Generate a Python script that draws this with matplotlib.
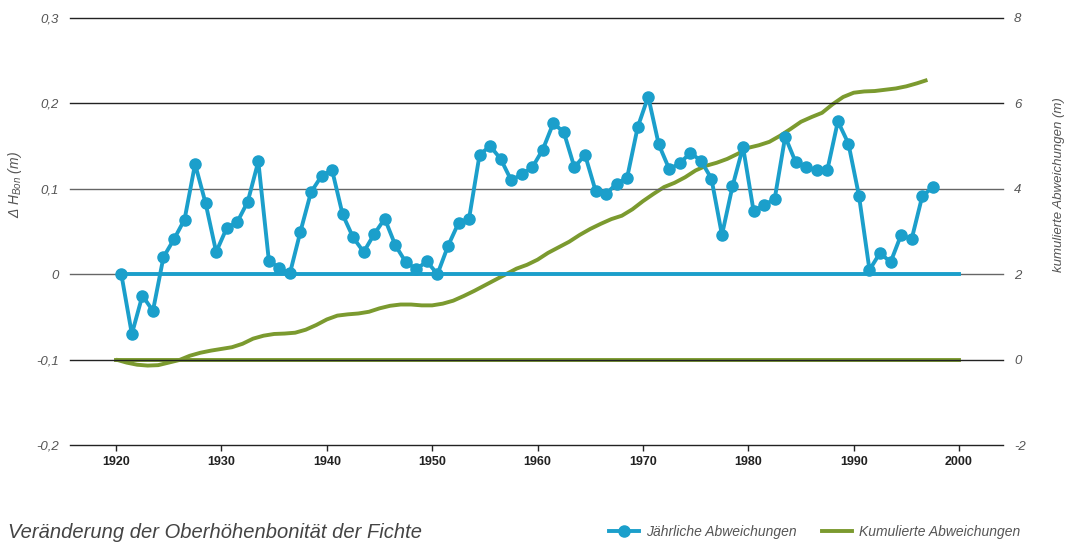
import numpy as np
import matplotlib
matplotlib.use("Agg")
import matplotlib.pyplot as plt
from matplotlib.lines import Line2D

plt.rcParams['font.family'] = ['Liberation Sans', 'DejaVu Sans']
plt.rcParams['mathtext.fontset'] = 'custom'
plt.rcParams['mathtext.rm'] = 'Liberation Sans:italic'
plt.rcParams['mathtext.it'] = 'Liberation Sans:italic'

# yearly deviations (left axis, m), plotted mid-year
years = np.arange(1920, 1998)
jaehrlich = [0.000, -0.070, -0.025, -0.043, 0.020, 0.041, 0.064, 0.129, 0.083, 0.026,
             0.054, 0.061, 0.085, 0.132, 0.016, 0.007, 0.001, 0.050, 0.096, 0.115,
             0.122, 0.070, 0.043, 0.026, 0.047, 0.065, 0.034, 0.014, 0.006, 0.015,
             0.000, 0.033, 0.060, 0.065, 0.140, 0.150, 0.135, 0.110, 0.117, 0.125,
             0.146, 0.177, 0.166, 0.125, 0.140, 0.098, 0.094, 0.106, 0.113, 0.172,
             0.208, 0.152, 0.123, 0.130, 0.142, 0.133, 0.112, 0.046, 0.103, 0.149,
             0.074, 0.081, 0.088, 0.161, 0.131, 0.125, 0.122, 0.122, 0.179, 0.153,
             0.092, 0.005, 0.025, 0.014, 0.046, 0.041, 0.091, 0.102]

# cumulative deviations (right axis, m)
kumuliert = [0.00, -0.07, -0.12, -0.14, -0.13, -0.07, -0.01, 0.09, 0.16, 0.21,
             0.25, 0.29, 0.37, 0.49, 0.56, 0.60, 0.61, 0.63, 0.70, 0.81,
             0.94, 1.03, 1.06, 1.08, 1.12, 1.20, 1.26, 1.29, 1.29, 1.27,
             1.27, 1.31, 1.38, 1.49, 1.61, 1.74, 1.87, 2.00, 2.13, 2.22,
             2.34, 2.50, 2.63, 2.76, 2.92, 3.06, 3.18, 3.29, 3.37, 3.52,
             3.71, 3.88, 4.04, 4.14, 4.27, 4.43, 4.54, 4.61, 4.70, 4.82,
             4.96, 5.02, 5.10, 5.24, 5.40, 5.57, 5.68, 5.78, 5.98, 6.15,
             6.25, 6.28, 6.29, 6.32, 6.35, 6.40, 6.47, 6.55]

left_ticks = [-0.2, -0.1, 0, 0.1, 0.2, 0.3]
left_labels = ['-0,2', '-0,1', '0', '0,1', '0,2', '0,3']
right_ticks = [-2, 0, 2, 4, 6, 8]
decades = [1920, 1930, 1940, 1950, 1960, 1970, 1980, 1990, 2000]

blue = '#1b9fcb'
green = '#7b9a2f'
grey = '#555555'

fig = plt.figure(figsize=(10.65, 5.42), dpi=100)
ax = fig.add_axes([70 / 1065, 97 / 542, 933 / 1065, 427 / 542])
ax2 = ax.twinx()

ax.set_xlim(1915.63, 2004.17)
ax.set_ylim(-0.2, 0.3)
ax2.set_ylim(-2, 8)

# grid lines
for t in left_ticks:
    c = '#666666' if t in (0, 0.1) else '#222222'
    ax.axhline(t, color=c, lw=1.0, zorder=1, clip_on=False)

# zero lines of both series
ax.plot([1920.5, 2000], [0, 0], color=blue, lw=2.8, zorder=3)
ax2.plot([1920, 2000], [0, 0], color=green, lw=2.8, zorder=2)

ax2.plot(years, kumuliert, color=green, lw=2.8, zorder=2, solid_capstyle='butt')
ax.set_zorder(ax2.get_zorder() + 1)
ax.patch.set_visible(False)
ax.plot(years + 0.5, jaehrlich, color=blue, lw=2.8, marker='o', ms=8,
        zorder=4)

for a in (ax, ax2):
    for s in a.spines.values():
        s.set_visible(False)

ax.set_yticks(left_ticks)
ax.set_yticklabels(left_labels, fontstyle='italic', color=grey, fontsize=9.5)
ax.tick_params(axis='y', length=0, pad=8)
ax2.set_yticks(right_ticks)
ax2.set_yticklabels([str(t) for t in right_ticks], fontstyle='italic',
                    color=grey, fontsize=9.5)
ax2.tick_params(axis='y', length=0, pad=8)

ax.set_xticks(decades)
ax.set_xticklabels([str(d) for d in decades], fontweight='bold', fontsize=9,
                   family=['Liberation Sans Narrow', 'Liberation Sans'],
                   color='#222222')
ax.tick_params(axis='x', direction='out', length=4, width=1, color='#222222',
               pad=4)

ax.set_ylabel(r'$\Delta\ H_{Bon}\ (m)$', color=grey, fontsize=10)
ax.yaxis.set_label_coords(-0.0493, 0.609)
ax2.set_ylabel('kumulierte Abweichungen (m)', fontstyle='italic', color=grey,
               fontsize=9.5)
ax2.yaxis.set_label_coords(1.0535, 0.609)

fig.text(8 / 1065, 1 - 532 / 542, 'Veränderung der Oberhöhenbonität der Fichte',
         fontstyle='italic', color='#444444', fontsize=14.5, va='center')

handles = [Line2D([], [], color=blue, lw=2.8, marker='o', ms=8),
           Line2D([], [], color=green, lw=2.8)]
fig.legend(handles, ['Jährliche Abweichungen', 'Kumulierte Abweichungen'],
           loc='center right', bbox_to_anchor=(1033 / 1065, 1 - 532 / 542),
           ncol=2, frameon=False, handlelength=2.2, handletextpad=0.5,
           columnspacing=1.8, prop={'style': 'italic', 'size': 10},
           labelcolor=grey)

fig.savefig('out.png', dpi=100)
